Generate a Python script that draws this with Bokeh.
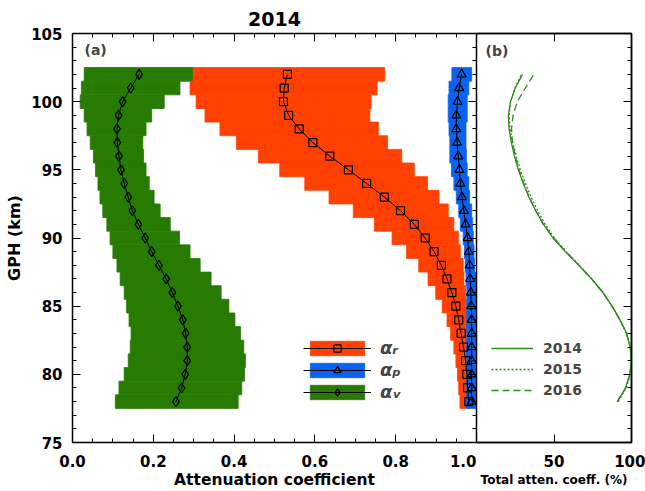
from bokeh.plotting import figure
from bokeh.layouts import row
from bokeh.models import (SingleIntervalTicker, FixedTicker, LinearAxis, Legend, LegendItem,
                          Label, Range1d, PrintfTickFormatter, CustomJSTickFormatter)
from bokeh.embed import file_html
from bokeh.resources import INLINE

# ---------------- data ----------------
altitude = [78, 79, 80, 81, 82, 83, 84, 85, 86, 87, 88, 89, 90,
            91, 92, 93, 94, 95, 96, 97, 98, 99, 100, 101, 102]

alpha_v = [0.256, 0.270, 0.279, 0.284, 0.284, 0.280, 0.273, 0.261, 0.247, 0.232, 0.214, 0.196, 0.180,
           0.163, 0.148, 0.138, 0.128, 0.120, 0.115, 0.111, 0.110, 0.114, 0.124, 0.144, 0.165]
alpha_v_lo = [0.106, 0.115, 0.128, 0.138, 0.143, 0.145, 0.140, 0.134, 0.128, 0.118, 0.110, 0.100, 0.093,
              0.085, 0.075, 0.068, 0.063, 0.057, 0.052, 0.044, 0.036, 0.029, 0.019, 0.022, 0.029]
alpha_v_hi = [0.410, 0.419, 0.426, 0.428, 0.424, 0.416, 0.402, 0.387, 0.368, 0.343, 0.316, 0.291, 0.265,
              0.242, 0.217, 0.202, 0.190, 0.182, 0.176, 0.174, 0.182, 0.196, 0.227, 0.266, 0.299]

alpha_r = [0.981, 0.978, 0.976, 0.973, 0.968, 0.962, 0.956, 0.949, 0.939, 0.927, 0.913, 0.895, 0.873,
           0.846, 0.812, 0.772, 0.728, 0.683, 0.637, 0.595, 0.561, 0.535, 0.522, 0.524, 0.532]
alpha_r_lo = [0.959, 0.956, 0.953, 0.949, 0.944, 0.936, 0.927, 0.915, 0.899, 0.880, 0.857, 0.827, 0.791,
              0.747, 0.695, 0.635, 0.575, 0.513, 0.460, 0.406, 0.365, 0.328, 0.306, 0.291, 0.299]
alpha_r_hi = [0.982, 0.981, 0.980, 0.980, 0.979, 0.978, 0.977, 0.975, 0.973, 0.969, 0.967, 0.960, 0.955,
              0.944, 0.930, 0.907, 0.879, 0.846, 0.815, 0.780, 0.757, 0.736, 0.739, 0.754, 0.773]

alpha_p = [0.988, 0.988, 0.988, 0.988, 0.988, 0.988, 0.988, 0.987, 0.986, 0.984, 0.983, 0.981, 0.978,
           0.973, 0.969, 0.964, 0.960, 0.958, 0.955, 0.952, 0.950, 0.950, 0.953, 0.957, 0.963]
alpha_p_lo = [0.975, 0.976, 0.976, 0.976, 0.976, 0.976, 0.976, 0.976, 0.976, 0.974, 0.972, 0.970, 0.967,
              0.960, 0.956, 0.950, 0.944, 0.938, 0.934, 0.934, 0.932, 0.930, 0.930, 0.932, 0.939]
alpha_p_hi = [0.998, 0.998, 0.998, 0.998, 0.998, 0.998, 0.998, 0.998, 0.998, 0.998, 0.995, 0.994, 0.992,
              0.990, 0.988, 0.983, 0.981, 0.977, 0.975, 0.974, 0.974, 0.977, 0.977, 0.981, 0.988]

total_2014 = [90.8, 96.1, 98.9, 99.9, 99.2, 96.9, 92.6, 87.5, 81.6, 74.3, 66.0, 57.3, 49.3,
              43.3, 38.2, 33.8, 30.2, 27.0, 24.5, 22.5, 21.0, 20.6, 21.9, 25.0, 29.7]
total_2015 = [91.5, 96.6, 99.2, 99.9, 99.1, 96.7, 92.4, 87.4, 81.5, 74.4, 66.3, 57.9, 50.2,
              44.3, 39.5, 35.3, 31.6, 28.3, 25.6, 23.4, 21.6, 21.0, 22.0, 24.8, 29.0]
total_2016 = [90.8, 96.2, 99.0, 100.0, 99.2, 96.8, 92.5, 87.4, 81.5, 74.2, 66.0, 57.6, 49.8,
              43.0, 38.2, 34.0, 30.5, 27.4, 25.0, 23.2, 22.6, 23.6, 26.3, 31.5, 37.0]

years = ["2014", "2015", "2016"]
x_ticks_b = [50, 100]

# ---------------- style ----------------
FONT = "DejaVu Sans"
GREEN = "#267B00"
RED = "#FF4000"
BLUE = "#0A62F2"
CURVE = "#2E8A1C"

yr = Range1d(75, 105)


def hide_labels(ax):
    ax.formatter = CustomJSTickFormatter(code="return ''")
    ax.major_label_text_font_size = "0px"
    ax.major_label_standoff = 0


def style_axis(ax):
    ax.axis_line_color = "black"
    ax.axis_line_width = 1.5
    ax.major_tick_line_color = "black"
    ax.minor_tick_line_color = "black"
    ax.major_tick_in = 8
    ax.major_tick_out = 0
    ax.minor_tick_in = 4
    ax.minor_tick_out = 0
    ax.major_label_text_font = FONT
    ax.major_label_text_font_style = "bold"
    ax.major_label_text_font_size = "15px"
    ax.major_label_text_color = "black"
    ax.axis_label_text_font = FONT
    ax.axis_label_text_font_style = "bold"
    ax.axis_label_text_color = "black"


# ---------------- panel (a) ----------------
p = figure(width=476, height=491, x_range=Range1d(0, 1), y_range=yr,
           output_backend="svg", toolbar_location=None,
           min_border_left=72, min_border_right=0, min_border_top=33, min_border_bottom=48)
p.grid.grid_line_color = None
p.outline_line_color = None

p.title.text = "2014"
p.title.align = "center"
p.title.vertical_align = "top"
p.title.text_font = FONT
p.title.text_font_size = "19px"
p.title.text_font_style = "bold"
p.title.text_color = "black"
p.title.standoff = 11

xa = p.xaxis[0]
style_axis(xa)
xa.ticker = SingleIntervalTicker(interval=0.2, num_minor_ticks=4)
xa.formatter = PrintfTickFormatter(format="%.1f")
xa.major_label_standoff = 12
xa.axis_label = "Attenuation coefficient"
xa.axis_label_text_font_size = "15.5px"
xa.axis_label_standoff = 1

ya = p.yaxis[0]
style_axis(ya)
ya.ticker = SingleIntervalTicker(interval=5, num_minor_ticks=5)
ya.major_label_standoff = 10
ya.axis_label = "GPH (km)"
ya.axis_label_text_font_size = "16px"
ya.axis_label_standoff = 4

top_a = LinearAxis(ticker=SingleIntervalTicker(interval=0.2, num_minor_ticks=4))
style_axis(top_a)
hide_labels(top_a)
p.add_layout(top_a, "above")

right_a = LinearAxis(ticker=SingleIntervalTicker(interval=5, num_minor_ticks=5))
style_axis(right_a)
hide_labels(right_a)
p.add_layout(right_a, "right")

bv = p.hbar(y=altitude, left=alpha_v_lo, right=alpha_v_hi, height=1.0,
            fill_color=GREEN, line_color=GREEN, line_width=0.8)
br = p.hbar(y=altitude, left=alpha_r_lo, right=alpha_r_hi, height=1.0,
            fill_color=RED, line_color=RED, line_width=0.8)
bp = p.hbar(y=altitude, left=alpha_p_lo, right=alpha_p_hi, height=1.0,
            fill_color=BLUE, line_color=BLUE, line_width=0.8)

lr = p.line(alpha_r, altitude, line_color="black", line_width=1)
sr = p.scatter(alpha_r, altitude, marker="square", size=8, fill_color=None,
               line_color="black", line_width=1.2)
lp = p.line(alpha_p, altitude, line_color="black", line_width=1)
sp = p.scatter(alpha_p, altitude, marker="triangle", size=9, fill_color=None,
               line_color="black", line_width=1.2)
lv = p.line(alpha_v, altitude, line_color="black", line_width=1)
sv = p.scatter(alpha_v, altitude, marker="diamond", size=10, fill_color=None,
               line_color="black", line_width=1.2)

leg_a = Legend(items=[LegendItem(label="α\u1d63", renderers=[br, lr, sr]),
                      LegendItem(label="α\u209a", renderers=[bp, lp, sp]),
                      LegendItem(label="α\u1d65", renderers=[bv, lv, sv])],
               location=(231, 40), orientation="vertical",
               glyph_width=68, glyph_height=18, spacing=1, padding=0, margin=0,
               label_standoff=9, label_text_font=FONT,
               label_text_font_style="bold italic", label_text_font_size="18px",
               border_line_color=None, background_fill_alpha=0)
p.add_layout(leg_a)

p.add_layout(Label(x=12, y=401, x_units="screen", y_units="screen", text="(a)",
                   text_baseline="top", text_font=FONT, text_font_style="bold",
                   text_font_size="14px"))

# ---------------- panel (b) ----------------
pb = figure(width=169, height=491, x_range=Range1d(0, 100), y_range=yr,
            output_backend="svg", toolbar_location=None, y_axis_location="right",
            min_border_left=0, min_border_right=14, min_border_top=33, min_border_bottom=48)
pb.grid.grid_line_color = None
pb.outline_line_color = "black"
pb.outline_line_width = 1.5

xb = pb.xaxis[0]
style_axis(xb)
xb.ticker = FixedTicker(ticks=x_ticks_b, minor_ticks=[])
xb.major_label_standoff = 12
xb.axis_label = "Total atten. coeff. (%)"
xb.axis_label_text_font_size = "12px"
xb.axis_label_standoff = 3

rb_ax = pb.yaxis[0]
style_axis(rb_ax)
rb_ax.ticker = SingleIntervalTicker(interval=5, num_minor_ticks=5)
hide_labels(rb_ax)

top_b = LinearAxis(ticker=FixedTicker(ticks=x_ticks_b, minor_ticks=[]))
style_axis(top_b)
hide_labels(top_b)
pb.add_layout(top_b, "above")

c1 = pb.line(total_2014, altitude, line_color=CURVE, line_width=1.3)
c2 = pb.line(total_2015, altitude, line_color=CURVE, line_width=1.3, line_dash="2 2")
c3 = pb.line(total_2016, altitude, line_color=CURVE, line_width=1.3, line_dash="7 4")

leg_b = Legend(items=[LegendItem(label=years[0], renderers=[c1]),
                      LegendItem(label=years[1], renderers=[c2]),
                      LegendItem(label=years[2], renderers=[c3])],
               location=(15, 44), orientation="vertical",
               glyph_width=42, glyph_height=16, spacing=5, padding=0, margin=0,
               label_standoff=10, label_text_font=FONT, label_text_font_style="bold",
               label_text_font_size="14px", border_line_color=None, background_fill_alpha=0)
pb.add_layout(leg_b)

pb.add_layout(Label(x=9, y=400, x_units="screen", y_units="screen", text="(b)",
                    text_baseline="top", text_font=FONT, text_font_style="bold",
                    text_font_size="14px"))

layout = row(p, pb, spacing=0)
open("out.html", "w").write(file_html(layout, INLINE))
